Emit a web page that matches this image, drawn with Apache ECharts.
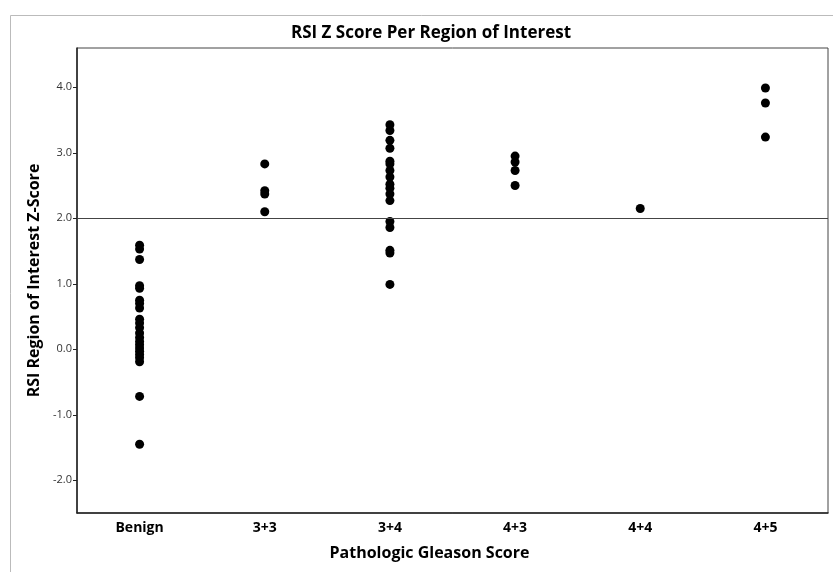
<!DOCTYPE html>
<html lang="en" style="height: 100%">
<head>
  <meta charset="utf-8">
</head>
<body style="height: 100%; margin: 0; background: #fff">
  <div id="container" style="width: 833px; height: 572px"></div>

  <script type="text/javascript" src="https://cdn.jsdelivr.net/npm/echarts@6.0.0/dist/echarts.min.js"></script>
  <script type="text/javascript">
// categories on the x axis
var groups = ['Benign', '3+3', '3+4', '4+3', '4+4', '4+5'];

// z-score of each region of interest, per group
var benign = [1.59, 1.53, 1.37, 0.97, 0.93, 0.75, 0.70, 0.63, 0.46, 0.40, 0.33, 0.25,
  0.18, 0.12, 0.07, 0.02, -0.03, -0.08, -0.13, -0.19, -0.72, -1.45];
var g33 = [2.83, 2.42, 2.37, 2.10];
var g34 = [3.43, 3.34, 3.19, 3.07, 2.87, 2.83, 2.73, 2.63, 2.52, 2.46, 2.37, 2.27,
  1.95, 1.86, 1.51, 1.47, 0.99];
var g43 = [2.95, 2.86, 2.73, 2.50];
var g44 = [2.15];
var g45 = [3.99, 3.76, 3.24];

var yTicks = [-2, -1, 0, 1, 2, 3, 4];
var cutoff = 2.0;

var points = [];
[benign, g33, g34, g43, g44, g45].forEach(function (vals, i) {
  vals.forEach(function (v) { points.push([groups[i], v]); });
});

var myChart = echarts.init(document.getElementById('container'), null, { renderer: 'canvas' });

var font = 'Open Sans, DejaVu Sans, sans-serif';

var option = {
  backgroundColor: '#fff',
  animation: false,
  title: {
    text: 'RSI Z Score Per Region of Interest',
    left: 426,
    textAlign: 'center',
    top: 20,
    textStyle: { fontFamily: font, fontSize: 17, fontWeight: 'bold', color: '#000' }
  },
  graphic: [{
    type: 'polyline',
    shape: { points: [[10.5, 572], [10.5, 15.5], [833, 15.5]] },
    style: { stroke: '#bbb', lineWidth: 1, fill: null }
  }],
  grid: {
    left: 77, right: 5, top: 48, bottom: 59,
    show: true, borderColor: '#444', borderWidth: 1
  },
  xAxis: {
    type: 'category',
    data: groups,
    name: 'Pathologic Gleason Score',
    nameLocation: 'middle',
    nameGap: 32,
    nameTextStyle: {
      fontFamily: font, fontSize: 16, fontWeight: 'bold', color: '#000',
      padding: [0, 46, 0, 0]
    },
    axisLine: { onZero: false, lineStyle: { color: '#222', width: 1.5 } },
    axisTick: { show: false },
    axisLabel: { fontFamily: font, fontSize: 14, fontWeight: 'bold', color: '#000', margin: 8 },
    splitLine: { show: false }
  },
  yAxis: {
    type: 'value',
    min: -2.5,
    max: 4.6,
    name: 'RSI Region of Interest Z-Score',
    nameLocation: 'middle',
    nameGap: 34,
    nameTextStyle: { fontFamily: font, fontSize: 16, fontWeight: 'bold', color: '#000' },
    axisLine: { show: true, onZero: false, lineStyle: { color: '#222', width: 1.5 } },
    axisTick: { show: true, length: 4, customValues: yTicks, lineStyle: { color: '#222' } },
    axisLabel: {
      fontFamily: font, fontSize: 11, color: '#333', margin: 5,
      customValues: yTicks,
      formatter: function (v) { return v.toFixed(1); }
    },
    splitLine: { show: false }
  },
  series: [{
    type: 'scatter',
    data: points,
    symbolSize: 9,
    itemStyle: { color: '#000', opacity: 1 },
    markLine: {
      silent: true,
      symbol: 'none',
      label: { show: false },
      lineStyle: { color: '#444', width: 1.2, type: 'solid' },
      data: [{ yAxis: cutoff }]
    }
  }]
};

myChart.setOption(option);
window.addEventListener('resize', myChart.resize);
  </script>
</body>
</html>
